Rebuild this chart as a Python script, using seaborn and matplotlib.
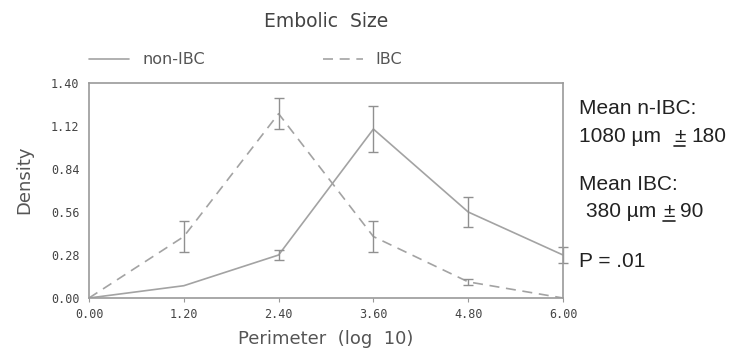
import matplotlib
matplotlib.use("Agg")
import matplotlib.pyplot as plt
import seaborn as sns
import pandas as pd
import numpy as np
from matplotlib.lines import Line2D

# ---- data ----
perimeter = [0.0, 1.2, 2.4, 3.6, 4.8, 6.0]
non_ibc = [0.0, 0.08, 0.28, 1.10, 0.56, 0.28]
non_ibc_err = [0.0, 0.0, 0.035, 0.15, 0.10, 0.05]
ibc = [0.0, 0.40, 1.20, 0.40, 0.105, 0.0]
ibc_err = [0.0, 0.10, 0.10, 0.10, 0.02, 0.0]
series_names = ["non-IBC", "IBC"]
xticks = [0.0, 1.2, 2.4, 3.6, 4.8, 6.0]
yticks = [0.0, 0.28, 0.56, 0.84, 1.12, 1.40]
# each note line: list of segments (text, gap before in px, underlined)
notes = [
    [("Mean n-IBC:", 0, False)],
    [("1080 µm", 0, False), ("±", 13, True), ("180", 6, False)],
    [("Mean IBC:", 0, False)],
    [("380 µm", 7, False), ("±", 7, True), ("90", 5, False)],
    [("P = .01", 0, False)],
]

sns.set_theme(style="white")
plt.rcParams["font.family"] = ["Liberation Sans", "DejaVu Sans"]

df = pd.DataFrame({
    "Perimeter": perimeter * 2,
    "Density": non_ibc + ibc,
    "err": non_ibc_err + ibc_err,
    "group": [series_names[0]] * len(perimeter) + [series_names[1]] * len(perimeter),
})

LC = "#a3a3a3"
W, H = 731, 349
fig = plt.figure(figsize=(7.31, 3.49), dpi=100)
ax = fig.add_axes([89 / W, 1 - 298 / H, (563 - 89) / W, (298 - 83) / H])

sns.lineplot(data=df, x="Perimeter", y="Density", style="group",
             dashes={"non-IBC": "", "IBC": (6, 4)}, color=LC, linewidth=1.2,
             ax=ax, legend=False, sort=False)

for name in series_names:
    sub = df[df["group"] == name]
    sub = sub[sub["err"] > 0]
    ax.errorbar(sub["Perimeter"], sub["Density"], yerr=sub["err"], fmt="none",
                ecolor="#909090", elinewidth=1.0, capsize=3.5, capthick=1.0, clip_on=False)

ax.set_xlim(0, 6)
ax.set_ylim(0, 1.4)
ax.set_xticks(xticks)
ax.set_yticks(yticks)
ax.set_xticklabels([f"{v:.2f}" for v in xticks], family="DejaVu Sans Mono", fontsize=8.5, color="#444444")
ax.set_yticklabels([f"{v:.2f}" for v in yticks], family="DejaVu Sans Mono", fontsize=8.5, color="#444444")
ax.tick_params(axis="both", length=3, width=0.8, color="#999999", pad=4, direction="out", bottom=True, left=False)
for s in ax.spines.values():
    s.set_color("#9a9a9a")
    s.set_linewidth(1.2)

ax.set_xlabel("Perimeter  (log  10)", fontsize=13, family="DejaVu Sans", color="#555555", labelpad=7)
ax.set_ylabel("Density", fontsize=13, family="DejaVu Sans", color="#555555")
ax.yaxis.set_label_coords(-0.117, 0.55)

fig.text(0.446, 1 - 27 / H, "Embolic  Size", ha="center", va="baseline", fontsize=13.5,
         family="DejaVu Sans", color="#444444")

handles = [Line2D([], [], color=LC, lw=1.2),
           Line2D([], [], color=LC, lw=1.2, dashes=(6, 4))]
fig.legend(handles, series_names, loc="center left", bbox_to_anchor=(75 / W, 1 - 60 / H),
           ncol=2, frameon=False, handlelength=2.5, handletextpad=0.8,
           columnspacing=7.4, labelcolor="#555555",
           prop={"family": "DejaVu Sans", "size": 11.5})

renderer = fig.canvas.get_renderer()
baselines = [114, 142, 190, 217, 267]
for segs, yb in zip(notes, baselines):
    x = 579
    for txt, gap, ul in segs:
        x += gap
        t = fig.text(x / W, 1 - yb / H, txt, ha="left", va="baseline", fontsize=15, color="#222222")
        bb = t.get_window_extent(renderer)
        if ul:
            yl = (H - yb) - 4
            fig.add_artist(Line2D([bb.x0 / W, bb.x1 / W], [yl / H, yl / H],
                                  color="#222222", lw=1.2, transform=fig.transFigure))
        x = bb.x1

fig.savefig("out.png", dpi=100)
